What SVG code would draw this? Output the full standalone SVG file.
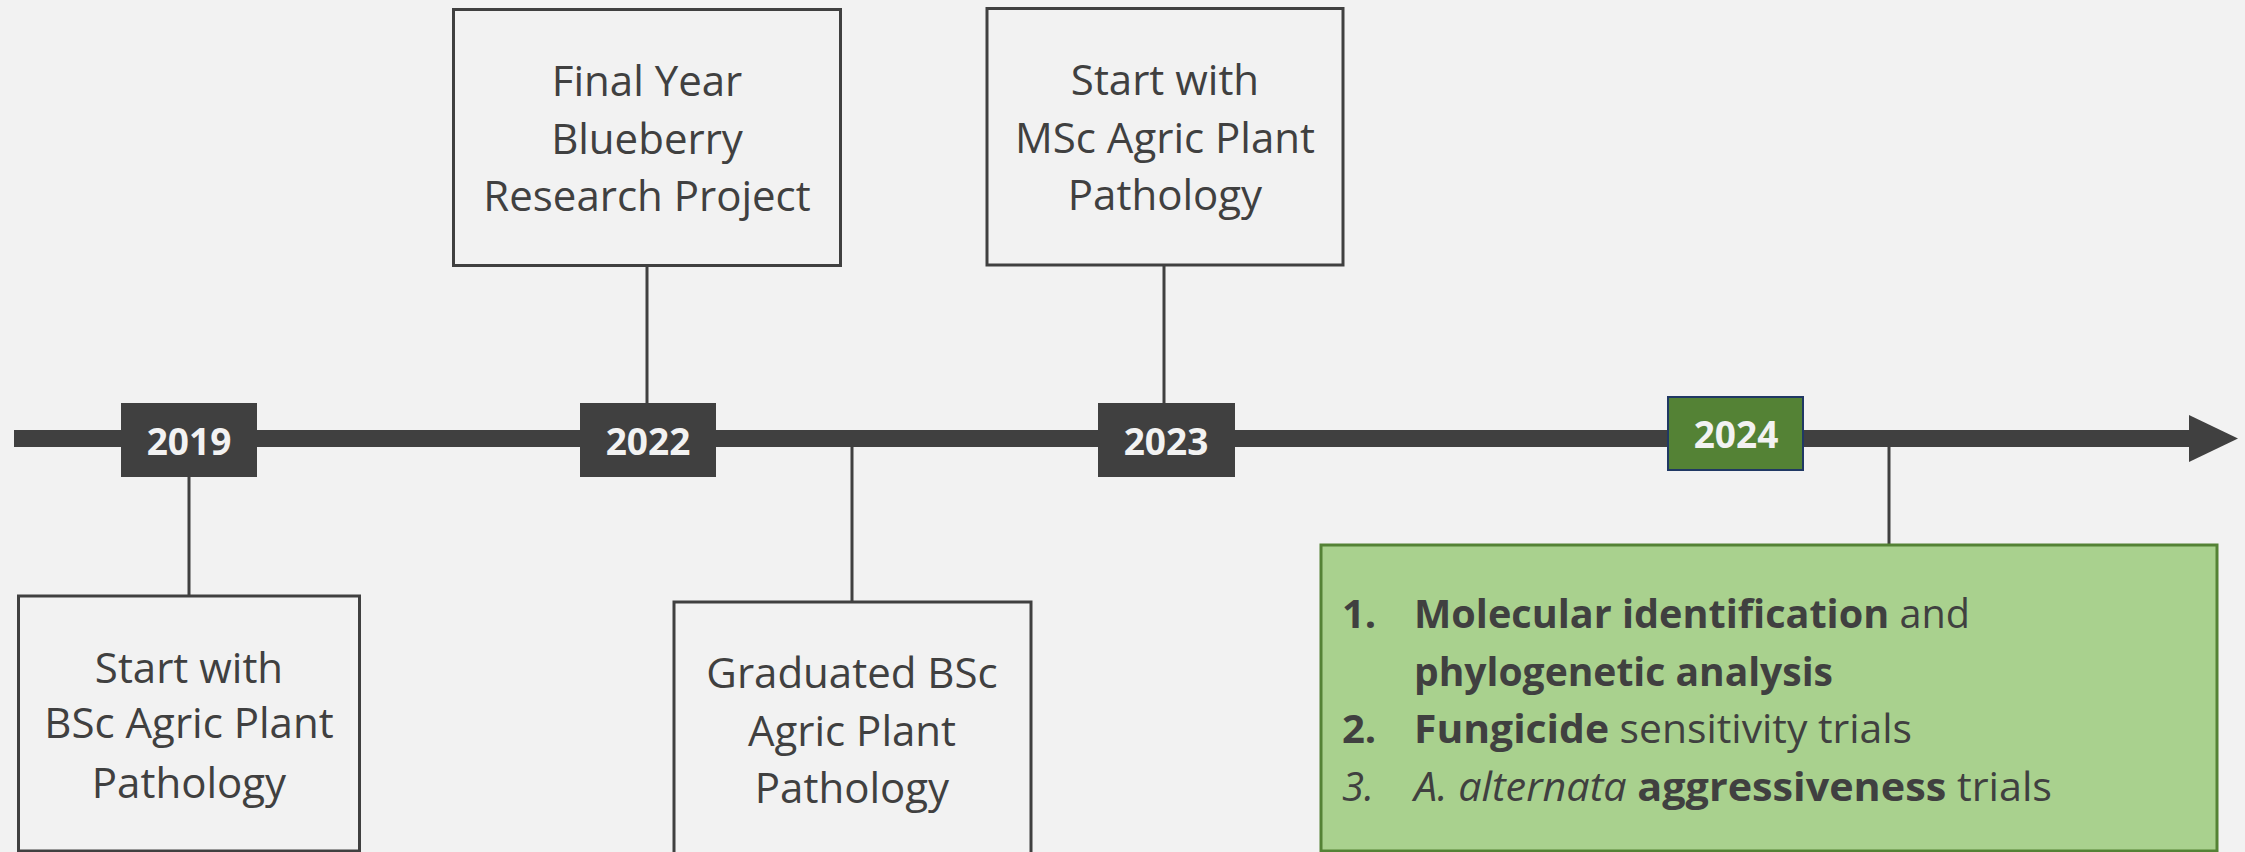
<svg xmlns="http://www.w3.org/2000/svg" width="2245" height="852" viewBox="0 0 2245 852">
<style>
.box{fill:#f2f2f2;stroke:#404040;stroke-width:3}
.yr{fill:#404040}
.yt{font-family:"Open Sans",sans-serif;font-weight:bold;font-size:37px;fill:#f2f2f2;text-anchor:middle}
.bt{font-family:"Open Sans",sans-serif;font-size:42px;fill:#404040;text-anchor:middle}
.gt{font-family:"Open Sans",sans-serif;font-size:40px;fill:#404040}
.b{font-weight:bold}
.i{font-style:italic}
.con{stroke:#404040;stroke-width:3;fill:none}
</style>
<rect x="0" y="0" width="2245" height="852" fill="#f2f2f2"/>
<g id="axis">
<rect x="14" y="430" width="2177" height="17" fill="#404040"/>
<polygon points="2189,415 2238,438.5 2189,462" fill="#404040"/>
</g>
<g id="connectors">
<line class="con" x1="189" y1="477" x2="189" y2="596"/>
<line class="con" x1="647" y1="266" x2="647" y2="403"/>
<line class="con" x1="852" y1="447" x2="852" y2="602"/>
<line class="con" x1="1164" y1="265" x2="1164" y2="403"/>
<line class="con" x1="1889" y1="447" x2="1889" y2="545"/>
</g>
<g id="y2019"><rect class="yr" x="121" y="403" width="136" height="74"/><text class="yt" x="189" y="455">2019</text></g>
<g id="y2022"><rect class="yr" x="580" y="403" width="136" height="74"/><text class="yt" x="648" y="455">2022</text></g>
<g id="y2023"><rect class="yr" x="1098" y="403" width="137" height="74"/><text class="yt" x="1166" y="455">2023</text></g>
<g id="y2024"><rect x="1668" y="397" width="135" height="73" fill="#548235" stroke="#203864" stroke-width="2"/><text class="yt" x="1736" y="448">2024</text></g>
<g id="bsc-start"><rect class="box" x="18.5" y="596" width="341" height="255"/>
<text class="bt" x="189" y="683">Start with</text><text class="bt" x="189" y="738">BSc Agric Plant</text><text class="bt" x="189" y="798">Pathology</text></g>
<g id="final-year"><rect class="box" x="453.5" y="9.5" width="387" height="256"/>
<text class="bt" x="647" y="96">Final Year</text><text class="bt" x="647" y="154">Blueberry</text><text class="bt" x="647" y="211">Research Project</text></g>
<g id="graduated"><rect class="box" x="674" y="602" width="357" height="253"/>
<text class="bt" x="852" y="688">Graduated BSc</text><text class="bt" x="852" y="746">Agric Plant</text><text class="bt" x="852" y="803">Pathology</text></g>
<g id="msc-start"><rect class="box" x="987" y="8.5" width="356" height="256.5"/>
<text class="bt" x="1165" y="95">Start with</text><text class="bt" x="1165" y="153">MSc Agric Plant</text><text class="bt" x="1165" y="210">Pathology</text></g>
<g id="research"><rect x="1321" y="545" width="896" height="306" fill="#a9d18e" stroke="#548235" stroke-width="3"/>
<text class="gt b" x="1342" y="628">1.</text>
<text class="gt" x="1414" y="628" textLength="556" lengthAdjust="spacingAndGlyphs"><tspan class="b">Molecular identification</tspan> and</text>
<text class="gt b" x="1414" y="686" textLength="419" lengthAdjust="spacingAndGlyphs">phylogenetic analysis</text>
<text class="gt b" x="1342" y="743">2.</text>
<text class="gt" x="1414" y="743" textLength="498" lengthAdjust="spacingAndGlyphs"><tspan class="b">Fungicide</tspan> sensitivity trials</text>
<text class="gt i" x="1342" y="801">3.</text>
<text class="gt" x="1414" y="801" textLength="638" lengthAdjust="spacingAndGlyphs"><tspan class="i">A. alternata</tspan> <tspan class="b">aggressiveness</tspan> trials</text>
</g>
</svg>
